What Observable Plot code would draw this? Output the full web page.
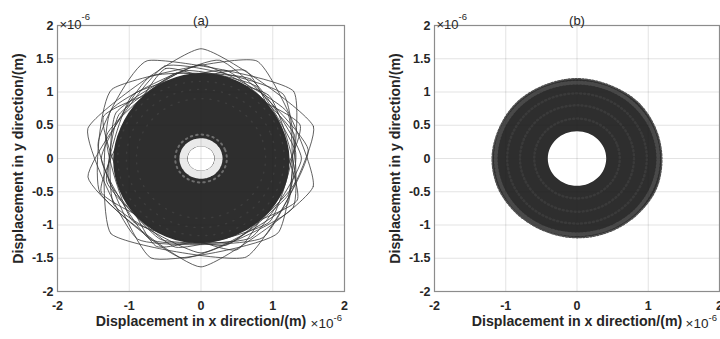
<!DOCTYPE html>
<html><head><meta charset="utf-8">
<script src="https://cdn.jsdelivr.net/npm/d3@7"></script>
<script src="https://cdn.jsdelivr.net/npm/@observablehq/plot@0.6"></script>
<style>
body{margin:0;background:#fff;}
#wrap{display:flex;width:720px;height:339px;overflow:hidden;}
#wrap svg{flex:none;}
</style></head><body><div id="wrap"></div>
<script>
// ---------- data (units of 1e-6 m) ----------
const panelTitles = ["(a)", "(b)"];
const xTicks = [-2, -1, 0, 1, 2];
const yTicks = [-2, -1.5, -1, -0.5, 0, 0.5, 1, 1.5, 2];
const xLabel = "Displacement in x direction/(m)";
const yLabel = "Displacement in y direction/(m)";
const expBase = "\u00d710";
const expPower = "-6";

// angles (deg) at which outlines were sampled
const ringAngles = [0, 22.5, 45, 67.5, 90, 112.5, 135, 157.5, 180, 202.5, 225, 247.5, 270, 292.5, 315, 337.5];

// (a) solid dark core outline radii
const coreA = [1.22, 1.21, 1.23, 1.26, 1.27, 1.25, 1.22, 1.2, 1.21, 1.22, 1.24, 1.26, 1.26, 1.24, 1.23, 1.23];
// (a) white hole radius and speckled rings around it
const holeA = [0.185];
const innerRingA = [0.245];
const faintRingA = [0.36];
const coreSpeckleA = [1.16, 1.04, 0.9];
// (a) large squarish excursions: corners [angle deg, radius]
const outerLoopsA = [
  [[90, 1.65], [17, 1.64], [-54, 1.47], [-126, 1.5], [164, 1.64]],
  [[62, 1.66], [-15, 1.62], [-90, 1.63], [-160, 1.5], [140, 1.62]],
  [[117, 1.65], [38, 1.64], [-46, 1.55], [-115, 1.65], [172, 1.45]],
  [[-67, 1.61], [-138, 1.69], [150, 1.45], [80, 1.5], [5, 1.5]],
  [[-170, 1.6], [110, 1.48], [40, 1.5], [-30, 1.48], [-100, 1.52]]
];
// (a) loops forming the fuzzy shell of the core
const shellLoopsA = [
  [[20, 1.47], [110, 1.44], [200, 1.48], [290, 1.46]],
  [[65, 1.46], [155, 1.5], [245, 1.46], [335, 1.48]],
  [[0, 1.4], [60, 1.38], [120, 1.42], [180, 1.39], [240, 1.41], [300, 1.38]],
  [[30, 1.39], [90, 1.41], [150, 1.37], [210, 1.4], [270, 1.42], [330, 1.39]],
  [[15, 1.35], [75, 1.37], [135, 1.35], [195, 1.36], [255, 1.38], [315, 1.35]],
  [[45, 1.34], [105, 1.33], [165, 1.36], [225, 1.34], [285, 1.35], [345, 1.36]],
  [[5, 1.32], [55, 1.33], [100, 1.34], [150, 1.32], [195, 1.33], [245, 1.34], [290, 1.32], [335, 1.33]]
];

// (b) annulus outline radii
const outerB = [1.19, 1.19, 1.2, 1.19, 1.2, 1.19, 1.19, 1.18, 1.19, 1.19, 1.18, 1.18, 1.19, 1.19, 1.19, 1.2];
const holeB = [0.41];
const hatchRingB = [1.14];
const speckleRingsB = [0.98, 0.8, 0.6];

// ---------- helpers (polar -> cartesian) ----------
const RAD = Math.PI / 180;
const polar = (pairs, id = 0) => pairs.map(([a, r]) => ({x: r * Math.cos(a * RAD), y: r * Math.sin(a * RAD), id}));
const outline = (radii, id = 0) => polar(ringAngles.map((a, i) => [a, radii.length === 1 ? radii[0] : radii[i]]), id);
const loops = (list) => list.flatMap((pairs, i) => polar(pairs, i));
const rings = (list) => list.flatMap((r, i) => outline([r], i));

const FONT = "'Liberation Sans', Arial, Helvetica, sans-serif";

function panel(title, marginLeft, marginRight, dataMarks) {
  const txt = (s, o) => Plot.text([s], {text: d => d, fill: "#262626", ...o});
  return Plot.plot({
    width: 360, height: 339,
    marginLeft, marginRight, marginTop: 25, marginBottom: 48,
    x: {domain: [-2, 2]}, y: {domain: [-2, 2]},
    style: {fontFamily: FONT, background: "transparent", overflow: "visible", color: "#262626"},
    marks: [
      ...dataMarks,
      Plot.gridX(xTicks, {stroke: "#262626", strokeOpacity: 0.13, strokeWidth: 1}),
      Plot.gridY(yTicks, {stroke: "#262626", strokeOpacity: 0.13, strokeWidth: 1}),
      Plot.frame({stroke: "#8c8c8c", strokeWidth: 1.2}),
      Plot.axisX(xTicks, {tickSize: 0, tickPadding: 10, tickFormat: d => String(d), fontWeight: "bold", fontSize: 12.5, label: null}),
      Plot.axisY(yTicks, {tickSize: 0, tickPadding: 4, tickFormat: d => String(d), fontWeight: "bold", fontSize: 12.5, label: null}),
      txt(xLabel, {frameAnchor: "bottom", textAnchor: "middle", dy: 34, fontWeight: "bold", fontSize: 14.2}),
      txt(expBase, {frameAnchor: "bottom-right", textAnchor: "start", dx: -34, dy: 36, fontSize: 13.5}),
      txt(expPower, {frameAnchor: "bottom-right", textAnchor: "start", dx: -11, dy: 29, fontSize: 9.5}),
      txt(yLabel, {frameAnchor: "left", textAnchor: "middle", rotate: -90, dx: -39, fontWeight: "bold", fontSize: 14.2}),
      txt(title, {frameAnchor: "top", textAnchor: "middle", dy: -10, fontSize: 13}),
      txt(expBase, {frameAnchor: "top-left", textAnchor: "start", dx: 2, dy: -6, fontSize: 13}),
      txt(expPower, {frameAnchor: "top-left", textAnchor: "start", dx: 24, dy: -12, fontSize: 9.5})
    ]
  });
}

const DARK = "#2e2e2e";

const marksA = [
  Plot.line(loops(outerLoopsA), {x: "x", y: "y", z: "id", curve: "cardinal-closed", tension: 0.55, stroke: "#3a3a3a", strokeWidth: 1, strokeOpacity: 0.8}),
  Plot.line(loops(shellLoopsA), {x: "x", y: "y", z: "id", curve: "cardinal-closed", tension: 0.55, stroke: "#333", strokeWidth: 1, strokeOpacity: 0.8}),
  Plot.line(outline(coreA), {x: "x", y: "y", curve: "catmull-rom-closed", fill: DARK, stroke: DARK, strokeWidth: 2}),
  Plot.line(rings(coreSpeckleA), {x: "x", y: "y", z: "id", curve: "catmull-rom-closed", stroke: "#9a9a9a", strokeWidth: 1.4, strokeDasharray: "1 7", strokeOpacity: 0.15}),
  Plot.line(rings(faintRingA), {x: "x", y: "y", z: "id", curve: "catmull-rom-closed", stroke: "#d0d0d0", strokeWidth: 2, strokeDasharray: "1.5 4", strokeOpacity: 0.4}),
  Plot.line(rings(innerRingA), {x: "x", y: "y", z: "id", curve: "catmull-rom-closed", stroke: "#f4f4f4", strokeWidth: 8, strokeDasharray: "3 2.2", strokeOpacity: 0.95}),
  Plot.line(outline(holeA), {x: "x", y: "y", curve: "catmull-rom-closed", fill: "#fff", stroke: "none"})
];

const marksB = [
  Plot.line(outline(outerB), {x: "x", y: "y", curve: "catmull-rom-closed", fill: DARK, stroke: "#505050", strokeWidth: 1.5, strokeDasharray: "2 1.5"}),
  Plot.line(rings(hatchRingB), {x: "x", y: "y", z: "id", curve: "catmull-rom-closed", stroke: "#7a7a7a", strokeWidth: 4, strokeDasharray: "1 2.5", strokeOpacity: 0.35}),
  Plot.line(rings(speckleRingsB), {x: "x", y: "y", z: "id", curve: "catmull-rom-closed", stroke: "#8a8a8a", strokeWidth: 2.5, strokeDasharray: "1 3", strokeOpacity: 0.13}),
  Plot.line(outline(holeB), {x: "x", y: "y", curve: "catmull-rom-closed", fill: "#fff", stroke: "none"})
];

const wrap = document.getElementById("wrap");
wrap.append(panel(panelTitles[0], 57, 16, marksA));
wrap.append(panel(panelTitles[1], 74, 1, marksB));
</script>
</body></html>
